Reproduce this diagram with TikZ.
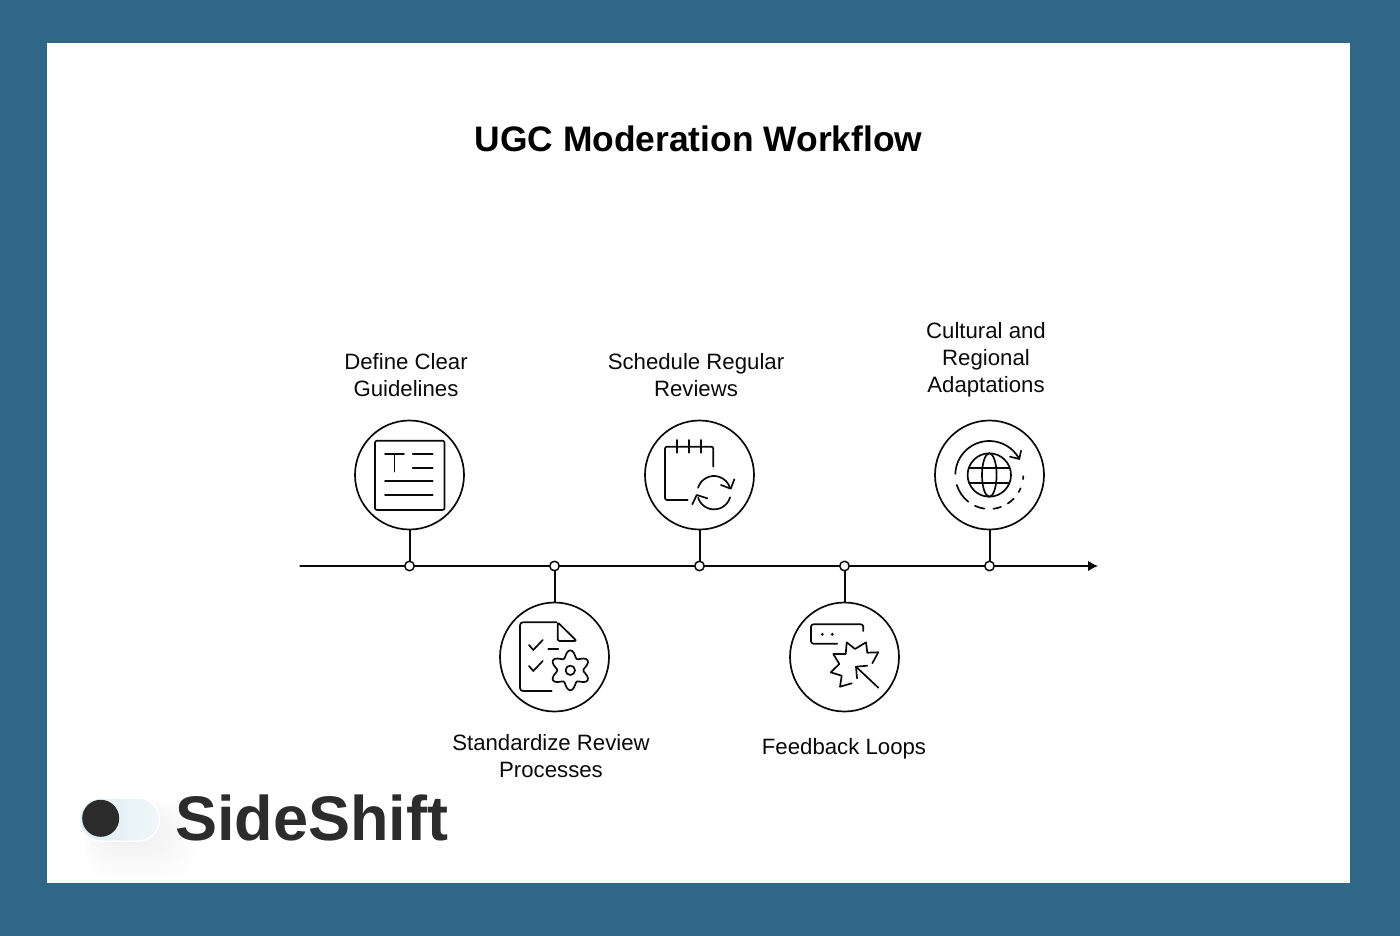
\documentclass[tikz,border=0pt]{standalone}
\usepackage{fontspec}
\setmainfont{Liberation Sans}
\usetikzlibrary{arrows.meta,calc,positioning}
\definecolor{frameblue}{HTML}{306688}
\definecolor{inkblack}{HTML}{0A0A0A}
\definecolor{pillblue}{HTML}{DCECF4}
\definecolor{pillpale}{HTML}{F1F7FA}
\definecolor{knobdark}{HTML}{2B2B2B}
\definecolor{brandgray}{HTML}{2C2C2C}
\begin{document}
\begin{tikzpicture}[x=1pt, y=-1pt, >=Latex, line cap=round, line join=round,
	every path/.style={draw=none},
	iconline/.style={draw=inkblack, line width=1.7pt},
	stepcircle/.style={circle, draw=inkblack, line width=1.7pt, fill=white, minimum size=109pt, inner sep=0pt},
	timedot/.style={circle, draw=inkblack, line width=1.5pt, fill=white, minimum size=9.5pt, inner sep=0pt},
	stemline/.style={draw=inkblack, line width=2pt},
	steplabel/.style={align=center, text=inkblack, inner sep=0pt, font=\fontsize{22.2}{27}\selectfont}]
	
	% frame and sheet
	\fill[frameblue] (0,0) rectangle (1400,936);
	\fill[white] (47,43) rectangle (1350,883);
	\useasboundingbox (0,0) rectangle (1400,936);
	
	\node[text=black, font=\fontsize{35.4}{40}\bfseries\selectfont] (title) at (698.5,139) {UGC Moderation Workflow};
	
	% timeline
	\coordinate (axisstart) at (300,566);
	\coordinate (axisend) at (1098,566);
	\draw[-{Latex[length=10pt,width=10.5pt]}, draw=inkblack, fill=inkblack, line width=1.3pt] (axisstart) -- (axisend);
	
	\node[stepcircle] (guide) at (409.5,475) {};
	\node[stepcircle] (standard) at (554.5,657) {};
	\node[stepcircle] (schedule) at (699.5,475) {};
	\node[stepcircle] (feedback) at (844.5,657) {};
	\node[stepcircle] (culture) at (989.5,475) {};
	
	\foreach \c in {guide,standard,schedule,feedback,culture}
		\draw[stemline] (\c) -- (\c |- axisstart);
	
	\node[timedot] (dotguide) at (409.5,566) {};
	\node[timedot] (dotstandard) at (554.5,566) {};
	\node[timedot] (dotschedule) at (699.5,566) {};
	\node[timedot] (dotfeedback) at (844.5,566) {};
	\node[timedot] (dotculture) at (989.5,566) {};
	
	\node[steplabel] (labelguide) at (406,375.5) {Define Clear\\Guidelines};
	\node[steplabel] (labelstandard) at (551,756) {Standardize Review\\Processes};
	\node[steplabel] (labelschedule) at (696,375.5) {Schedule Regular\\Reviews};
	\node[steplabel] (labelfeedback) at (844,749) {Feedback Loops};
	\node[steplabel] (labelculture) at (986,359.5) {Cultural and\\Regional\\Adaptations};
	
	% icon: page with text
	\draw[iconline, rounded corners=2pt] (375,440.7) rectangle (444.5,510);
	\draw[iconline] (385,454) -- (404,454) (394.5,454) -- (394.5,471.6);
	\draw[iconline] (412.7,454) -- (432.7,454) (412.7,468) -- (432.7,468);
	\draw[iconline] (385,481) -- (432.7,481) (385,494.7) -- (432.7,494.7);
	
	% icon: checklist and gear
	\draw[iconline, rounded corners=3pt] (556.7,622.3) -- (520,622.3) -- (520,691) -- (551.7,691);
	\draw[iconline, rounded corners=2pt] (557.7,622.3) -- (557.7,641) -- (576.7,641) -- cycle;
	\draw[iconline] (529,645) -- (533.3,650) -- (542.7,640);
	\draw[iconline] (548.3,648.7) -- (558.3,648.7);
	\draw[iconline] (529,666) -- (533.3,671) -- (542.7,661);
	\draw[iconline] plot[smooth cycle, domain=0:354, samples=60, variable=\t]
		({570.3+(16.5-3.5*cos(6*\t))*cos(\t)},{670.3+(16.5-3.5*cos(6*\t))*sin(\t)});
	\draw[iconline] (570.3,670.3) circle[radius=4.7];
	
	% icon: calendar with refresh arrows
	\draw[iconline, rounded corners=2pt] (713.3,466.7) -- (713.3,446.7) -- (665,446.7) -- (665,500) -- (687.7,500);
	\foreach \x in {676.7,689,701.3}
		\draw[iconline] (\x,440) -- (\x,452.7);
	\coordinate (refresh) at (714,492.7);
	\draw[iconline] (refresh) ++(-163:16.7) arc[start angle=-163, end angle=-15, radius=16.7];
	\draw[iconline] (refresh) ++(16:16.7) arc[start angle=16, end angle=163, radius=16.7];
	\draw[iconline] (721,485) -- (730.7,488.7) -- (734.3,479.3);
	\draw[iconline] (692.3,504.3) -- (696.7,495) -- (707.3,498.3);
	
	% icon: message box and cursor burst
	\draw[iconline, rounded corners=2.5pt] (863.3,631) -- (863.3,624.3) -- (811,624.3) -- (811,643.7) -- (837.3,643.7);
	\fill[inkblack] (822.3,634.3) circle[radius=1.6] (832.3,634.3) circle[radius=1.6];
	\draw[iconline] (872.3,663.3) -- (878.3,652.3) -- (867.3,652.7) -- (866,642.3) -- (855,649) -- (846.7,642.3)
		-- (845.7,654) -- (833.3,654) -- (839.3,664) -- (830.7,672.3) -- (841.7,675.7) -- (840,686.7) -- (851.7,683.3);
	\draw[iconline] (878.3,687.7) -- (856,666.7);
	\draw[iconline] (857,678.3) -- (856,666.7) -- (867.3,665.7);
	
	% icon: globe with rotating ring
	\coordinate (ring) at (989.3,475);
	\draw[iconline] (ring) circle[radius=21.7];
	\draw[iconline] (ring) ellipse[x radius=7.3, y radius=21.7];
	\draw[iconline] (969.3,468.3) -- (1009.3,468.3) (969.3,482.7) -- (1009.3,482.7);
	\draw[iconline] (ring) ++(-178:34) arc[start angle=-178, end angle=-30, radius=34];
	\draw[iconline] (1010,456.7) -- (1019.3,459) -- (1021,450.7);
	\foreach \a/\b in {197/232,245/261.5,277/290,303/316,330/337,353/358}
		\draw[iconline] (ring) ++(-\a:34) arc[start angle=-\a, end angle=-\b, radius=34];
	
	% logo
	\foreach \i in {1,...,12}
		\fill[black, opacity=0.004, rounded corners=26pt]
			(84+\i,800+\i) rectangle (200-3*\i,882-3*\i);
	\node[draw=white, line width=1.5pt, left color=pillblue, right color=pillpale, rounded corners=21pt, minimum width=80pt, minimum height=43pt, inner sep=0pt] (pill) at (119.5,819.5) {};
	\node[circle, fill=knobdark, minimum size=37pt, inner sep=0pt] (knob) at (100.7,818.3) {};
	\node[brandgray, font=\fontsize{63}{66}\bfseries\selectfont, anchor=west, inner sep=0pt] (brand) at (175,818) {SideShift};
\end{tikzpicture}
\end{document}
